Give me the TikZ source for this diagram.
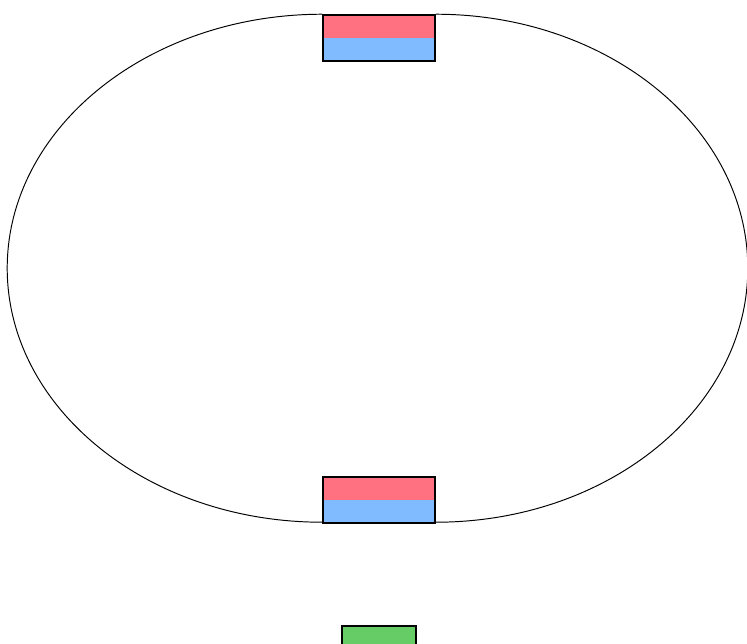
\documentclass[tikz,border=0pt]{standalone}
\usepackage{xcolor}
\usetikzlibrary{positioning,calc}

\definecolor{nred}{RGB}{255,112,128}
\definecolor{sblue}{RGB}{128,187,255}
\definecolor{rgreen}{RGB}{102,204,102}

\begin{document}
\begin{tikzpicture}[magnet/.style = {rectangle, draw, line width=0.9pt, minimum width=2.24cm, minimum height=0.92cm, inner sep=0pt,
    path picture={\fill[nred] (path picture bounding box.north west) rectangle (path picture bounding box.east);
                  \fill[sblue] (path picture bounding box.west) rectangle (path picture bounding box.south east);}},
  ring/.style = {line width=0.55pt},
  block/.style = {rectangle, draw, line width=0.9pt, fill=rgreen, minimum width=1.48cm, minimum height=0.4cm, inner sep=0pt}]

\useasboundingbox (0,0) rectangle (14.94,-12.86);

\node[magnet] (top) at (7.58,-0.76) {};
\node[magnet] (bot) at (7.58,-10.0) {};
\node[block] (base) at (7.58,-12.72) {};

% the loop, left and right halves
\draw[ring] (top.north west) arc[start angle=90, end angle=270, x radius=6.3cm, y radius=5.08cm];
\draw[ring] (top.north east) arc[start angle=90, end angle=-90, x radius=6.24cm, y radius=5.08cm];
\end{tikzpicture}
\end{document}
